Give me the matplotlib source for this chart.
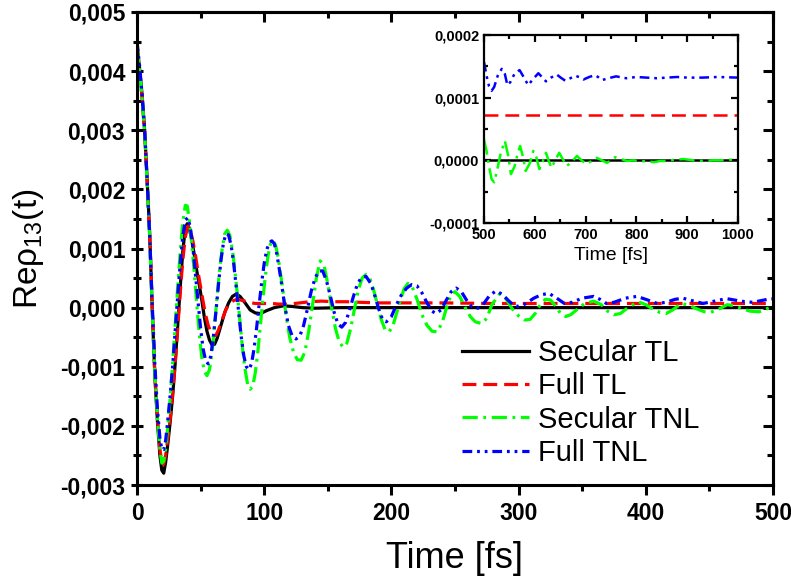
import numpy as np
import matplotlib
matplotlib.use("Agg")
import matplotlib.pyplot as plt
from matplotlib.ticker import MultipleLocator, FuncFormatter

# ---- main panel data (time in fs, Re rho_13 in units of 1e-3) ----
t_sec_tl = [0, 2, 4, 6, 8, 10, 12, 14, 16, 18, 19.5, 21, 22.5, 24, 26, 28, 30, 32, 34, 36,
            38, 39.5, 41, 43, 45, 47, 49, 51, 53, 55, 57, 59, 61, 63, 66, 69, 72, 75, 78, 81,
            85, 89, 93, 97, 102, 108, 115, 122, 130, 140, 160, 500]
v_sec_tl = [4.45, 4.05, 3.6, 3.0, 2.15, 1.25, -0.05, -1.15, -1.9, -2.5, -2.75, -2.8, -2.62,
            -2.35, -1.95, -1.5, -0.95, -0.3, 0.35, 0.95, 1.35, 1.42, 1.35, 1.15, 0.9, 0.62,
            0.38, 0.12, -0.17, -0.4, -0.55, -0.63, -0.62, -0.52, -0.3, -0.08, 0.08, 0.19,
            0.23, 0.19, 0.08, -0.04, -0.09, -0.1, -0.05, 0.0, 0.03, 0.02, 0.0, -0.01, 0.0, 0.0]

t_full_tl = [0, 2, 4, 6, 8, 10, 12, 14, 16, 18, 19.5, 21, 22.5, 24, 26, 28, 30, 32, 34, 36,
             38, 40, 42, 44, 46, 48, 50, 52, 54, 56, 58, 60, 62, 64, 67, 70, 73, 76, 79, 83,
             88, 93, 98, 105, 112, 120, 128, 136, 145, 155, 165, 175, 190, 210, 240, 280, 500]
v_full_tl = [4.4, 4.0, 3.55, 2.95, 2.1, 1.2, 0.0, -1.1, -1.85, -2.4, -2.6, -2.65, -2.5,
             -2.25, -1.9, -1.45, -0.95, -0.35, 0.25, 0.8, 1.2, 1.38, 1.3, 1.12, 0.88, 0.6,
             0.35, 0.1, -0.13, -0.3, -0.42, -0.48, -0.47, -0.38, -0.2, -0.03, 0.08, 0.12,
             0.14, 0.12, 0.09, 0.07, 0.07, 0.07, 0.06, 0.06, 0.08, 0.1, 0.11, 0.1, 0.1, 0.09,
             0.08, 0.08, 0.08, 0.07, 0.07]

t_sec_tnl = [0, 2, 4, 6, 8, 10, 12, 14, 16, 18, 19.5, 21, 22.5, 24, 26, 28, 30, 32, 34, 36,
             38, 39.5, 41, 43, 45, 47, 49, 51, 53, 55, 57, 59, 61, 63, 65, 67, 69, 71, 73, 75,
             77, 79, 81, 83, 85, 87, 89, 91, 93, 95, 97, 99, 101, 103, 105, 107, 109, 111,
             114, 117, 120, 123, 126, 129, 132, 135, 138, 141, 144, 147, 150, 153, 156, 159,
             162, 165, 168, 171, 174, 177, 180, 183, 186, 189, 192, 195, 198, 201, 204, 207,
             210, 213, 216, 220, 224, 228, 232, 236, 240, 244, 247, 250, 254, 258, 262, 266,
             271, 275, 279, 285, 290, 295, 300, 305, 309, 313, 317, 321, 325, 329, 333, 337,
             341, 346, 352, 359, 365, 370, 375, 380, 386, 394, 400, 406, 411, 416, 421, 428,
             434, 440, 446, 451, 457, 464, 470, 476, 482, 489, 495, 500]
v_sec_tnl = [4.4, 4.0, 3.55, 2.95, 2.1, 1.15, -0.05, -1.1, -1.85, -2.4, -2.63, -2.6, -2.4,
             -2.05, -1.55, -0.95, -0.3, 0.35, 0.95, 1.45, 1.73, 1.72, 1.5, 1.1, 0.6, 0.05,
             -0.45, -0.85, -1.08, -1.15, -1.05, -0.75, -0.3, 0.2, 0.65, 1.0, 1.25, 1.31,
             1.22, 0.98, 0.62, 0.2, -0.25, -0.7, -1.05, -1.3, -1.38, -1.33, -1.1, -0.75,
             -0.3, 0.15, 0.55, 0.88, 1.08, 1.14, 1.05, 0.85, 0.4, -0.1, -0.5, -0.75, -0.88,
             -0.89, -0.75, -0.4, 0.05, 0.5, 0.79, 0.72, 0.4, 0.0, -0.35, -0.58, -0.67, -0.6,
             -0.35, -0.02, 0.3, 0.5, 0.56, 0.5, 0.3, 0.05, -0.2, -0.37, -0.41, -0.32, -0.1,
             0.12, 0.32, 0.41, 0.37, 0.15, -0.12, -0.3, -0.4, -0.41, -0.25, 0.05, 0.22, 0.27,
             0.18, 0.0, -0.15, -0.24, -0.27, -0.18, 0.05, 0.23, 0.15, -0.02, -0.14, -0.21,
             -0.2, -0.1, 0.05, 0.14, 0.13, 0.03, -0.1, -0.15, -0.12, -0.03, 0.07, 0.11, 0.05,
             -0.06, -0.12, -0.1, 0.0, 0.1, 0.05, -0.03, -0.08, -0.1, -0.04, 0.07, 0.04, -0.02,
             -0.07, -0.08, -0.03, 0.05, 0.03, -0.02, -0.06, -0.07, -0.02, 0.02]

t_full_tnl = [0, 2, 4, 6, 8, 10, 12, 14, 16, 18, 19.5, 21, 22.5, 24, 26, 28, 30, 32, 34, 36,
              38, 40, 42, 44, 46, 48, 50, 52, 54, 56, 58, 60, 62, 64, 66, 68, 70, 72, 74, 76,
              78, 80, 82, 84, 86, 88, 90, 92, 94, 96, 98, 100, 102, 104, 106, 108, 110, 113,
              116, 119, 122, 125, 128, 131, 134, 137, 140, 143, 146, 149, 152, 155, 158, 161,
              164, 167, 170, 173, 176, 180, 184, 187, 190, 193, 196, 200, 204, 208, 212, 216,
              220, 224, 228, 232, 235, 239, 243, 247, 251, 255, 259, 263, 268, 272, 277, 282,
              287, 292, 296, 300, 305, 312, 318, 324, 330, 336, 342, 350, 359, 364, 369, 375,
              384, 393, 400, 409, 416, 423, 429, 436, 445, 452, 458, 464, 472, 478, 484, 491,
              498, 500]
v_full_tnl = [4.5, 4.1, 3.6, 3.0, 2.15, 1.2, 0.05, -0.95, -1.7, -2.2, -2.4, -2.4, -2.25,
              -1.95, -1.5, -1.0, -0.4, 0.2, 0.75, 1.2, 1.48, 1.52, 1.35, 1.0, 0.55, 0.1,
              -0.35, -0.7, -0.9, -0.95, -0.82, -0.5, -0.08, 0.38, 0.8, 1.1, 1.25, 1.23, 1.05,
              0.75, 0.35, -0.1, -0.5, -0.82, -1.0, -1.05, -0.95, -0.7, -0.35, 0.05, 0.42,
              0.75, 0.98, 1.1, 1.13, 1.08, 0.9, 0.5, 0.05, -0.3, -0.48, -0.53, -0.48, -0.3,
              -0.02, 0.28, 0.5, 0.62, 0.62, 0.45, 0.2, -0.08, -0.28, -0.33, -0.25, -0.05,
              0.18, 0.38, 0.5, 0.53, 0.4, 0.2, -0.02, -0.2, -0.24, -0.15, 0.05, 0.22, 0.33,
              0.39, 0.37, 0.25, 0.08, -0.06, -0.1, -0.04, 0.12, 0.27, 0.33, 0.27, 0.13, 0.02,
              -0.01, 0.05, 0.2, 0.28, 0.23, 0.12, 0.04, 0.02, 0.06, 0.16, 0.22, 0.24, 0.16,
              0.07, 0.09, 0.16, 0.19, 0.14, 0.07, 0.09, 0.16, 0.19, 0.14, 0.07, 0.09, 0.14,
              0.16, 0.12, 0.07, 0.1, 0.13, 0.15, 0.12, 0.1, 0.09, 0.12, 0.15, 0.15]

# ---- inset data (time in fs, values in units of 1e-4) ----
t_in_sec_tl = [500, 1000]
v_in_sec_tl = [0.0, 0.0]
t_in_full_tl = [500, 1000]
v_in_full_tl = [0.73, 0.73]
t_in_sec_tnl = [500, 505, 510, 515, 520, 526, 533, 541, 547, 553, 560, 566, 571, 577, 582,
                590, 597, 603, 609, 615, 622, 627, 633, 640, 648, 655, 663, 673, 683, 692,
                702, 712, 722, 732, 742, 750, 758, 770, 781, 795, 807, 820, 834, 847, 860,
                875, 893, 912, 932, 950, 965, 985, 1000]
v_in_sec_tnl = [0.33, 0.15, -0.1, -0.3, -0.35, -0.15, 0.12, 0.31, 0.1, -0.22, -0.1, 0.1,
                0.23, 0.05, -0.17, -0.05, 0.15, 0.05, -0.14, -0.03, 0.12, 0.0, -0.12, 0.0,
                0.12, 0.02, -0.09, -0.02, 0.07, 0.0, -0.06, -0.01, 0.04, 0.0, -0.04, 0.0,
                0.05, 0.02, -0.01, 0.0, -0.02, -0.01, -0.03, -0.01, -0.01, 0.01, 0.02, 0.0,
                -0.01, 0.0, 0.0, 0.01, 0.015]
t_in_full_tnl = [500, 505, 510, 515, 520, 527, 535, 541, 546, 552, 560, 570, 578, 587, 597,
                 607, 614, 622, 632, 643, 651, 660, 670, 679, 687, 696, 707, 719, 726, 732,
                 745, 760, 780, 800, 820, 840, 860, 880, 900, 930, 960, 1000]
v_in_full_tnl = [1.57, 1.35, 1.18, 1.11, 1.17, 1.35, 1.46, 1.38, 1.2, 1.25, 1.38, 1.44,
                 1.33, 1.2, 1.3, 1.39, 1.33, 1.26, 1.32, 1.37, 1.32, 1.27, 1.31, 1.35, 1.33,
                 1.29, 1.33, 1.36, 1.32, 1.28, 1.31, 1.34, 1.31, 1.33, 1.32, 1.31, 1.32, 1.33,
                 1.32, 1.32, 1.33, 1.32]

labels = ["Secular TL", "Full TL", "Secular TNL", "Full TNL"]
colors = ["black", "#ff0000", "#00ff00", "#0000ff"]
dashes = [None, (10, 5), (11, 4, 2, 4), (7, 3.5, 2, 3.5, 2, 3.5)]

plt.rcParams["font.family"] = ["Liberation Sans", "DejaVu Sans"]
plt.rcParams["lines.scale_dashes"] = False


def comma_fmt(ndec):
    # decimal comma, as in the original figure
    return FuncFormatter(lambda v, pos: f"{0.0 if abs(v) < 1e-12 else v:.{ndec}f}".replace(".", ","))


fig = plt.figure(figsize=(7.91, 5.85), dpi=100)
ax = fig.add_axes([137 / 791, 1 - 485 / 585, (773 - 137) / 791, (485 - 12) / 585])

main_series = [(t_sec_tl, v_sec_tl), (t_full_tl, v_full_tl),
               (t_sec_tnl, v_sec_tnl), (t_full_tnl, v_full_tnl)]
for (t, v), lab, c, d in zip(main_series, labels, colors, dashes):
    line, = ax.plot(t, np.array(v) * 1e-3, color=c, lw=2.3, label=lab)
    if d is not None:
        line.set_dashes(d)

ax.set_xlim(0, 500)
ax.set_ylim(-0.003, 0.005)
ax.xaxis.set_major_locator(MultipleLocator(100))
ax.xaxis.set_minor_locator(MultipleLocator(50))
ax.yaxis.set_major_locator(MultipleLocator(0.001))
ax.yaxis.set_minor_locator(MultipleLocator(0.0005))
ax.yaxis.set_major_formatter(comma_fmt(3))
for s in ax.spines.values():
    s.set_linewidth(2.2)
ax.tick_params(axis="x", which="major", direction="out", length=7, width=2.2, pad=5,
               labelsize=16.5)
ax.tick_params(axis="x", which="minor", direction="out", length=4, width=2.2)
ax.tick_params(axis="y", which="major", direction="inout", length=9, width=2.2, pad=4,
               labelsize=16.5)
ax.tick_params(axis="y", which="minor", direction="inout", length=6, width=2.2)
for lbl in ax.get_xticklabels() + ax.get_yticklabels():
    lbl.set_fontweight("bold")

# mirrored ticks on top and right, pointing inwards
top = ax.secondary_xaxis("top")
top.xaxis.set_major_locator(MultipleLocator(100))
top.xaxis.set_minor_locator(MultipleLocator(50))
top.tick_params(which="major", direction="in", length=7, width=2.2, labeltop=False)
top.tick_params(which="minor", direction="in", length=4, width=2.2)
top.spines["top"].set_linewidth(2.2)
right = ax.secondary_yaxis("right")
right.yaxis.set_major_locator(MultipleLocator(0.001))
right.yaxis.set_minor_locator(MultipleLocator(0.0005))
right.tick_params(which="major", direction="in", length=7, width=2.2, labelright=False)
right.tick_params(which="minor", direction="in", length=4, width=2.2)
right.spines["right"].set_linewidth(2.2)

ax.set_xlabel("Time [fs]", fontsize=26, labelpad=12)
ax.set_ylabel("Re\u03c1$_{\\mathregular{13}}$(t)", fontsize=24, labelpad=10)

leg = ax.legend(loc="upper left", bbox_to_anchor=(462 / 791, 1 - 339 / 585),
                bbox_transform=fig.transFigure, frameon=False, fontsize=21,
                handlelength=2.3, handletextpad=0.3, labelspacing=0.18,
                borderpad=0, borderaxespad=0)

# ---- inset ----
ins = fig.add_axes([484 / 791, 1 - 223 / 585, (738 - 484) / 791, (223 - 35) / 585])
inset_series = [(t_in_sec_tl, v_in_sec_tl), (t_in_full_tl, v_in_full_tl),
                (t_in_sec_tnl, v_in_sec_tnl), (t_in_full_tnl, v_in_full_tnl)]
for (t, v), c, d in zip(inset_series, colors, dashes):
    line, = ins.plot(t, np.array(v) * 1e-4, color=c, lw=1.8)
    if d is not None:
        line.set_dashes(d)
ins.set_xlim(500, 1000)
ins.set_ylim(-0.0001, 0.0002)
ins.xaxis.set_major_locator(MultipleLocator(100))
ins.xaxis.set_minor_locator(MultipleLocator(50))
ins.yaxis.set_major_locator(MultipleLocator(0.0001))
ins.yaxis.set_minor_locator(MultipleLocator(0.00005))
ins.yaxis.set_major_formatter(comma_fmt(4))
for s in ins.spines.values():
    s.set_linewidth(1.6)
ins.tick_params(which="major", direction="in", length=5, width=1.6, labelsize=10.5,
                top=True, right=True)
ins.tick_params(which="minor", direction="in", length=3, width=1.6, top=True, right=True)
for lbl in ins.get_xticklabels() + ins.get_yticklabels():
    lbl.set_fontweight("bold")
ins.set_xlabel("Time [fs]", fontsize=14, labelpad=4)

fig.savefig("out.png", dpi=100)
